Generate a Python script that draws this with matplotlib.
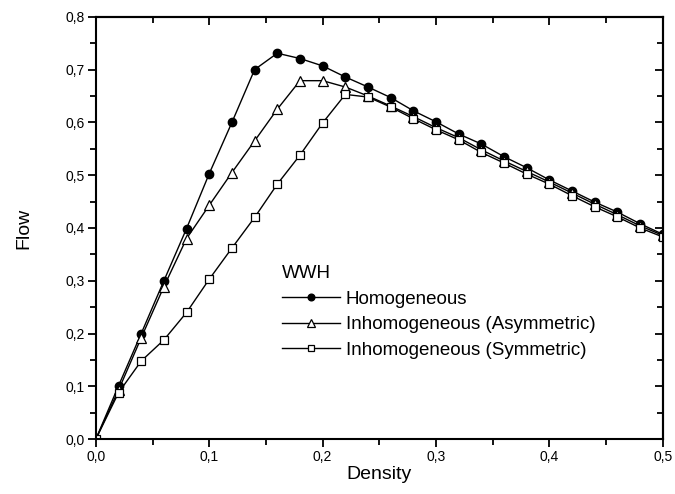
import matplotlib
matplotlib.use("Agg")
import matplotlib.pyplot as plt
from matplotlib.ticker import MultipleLocator, FuncFormatter

plt.rcParams['font.family'] = ['Liberation Sans', 'DejaVu Sans']

density = [0.00, 0.02, 0.04, 0.06, 0.08, 0.10, 0.12, 0.14, 0.16, 0.18, 0.20, 0.22, 0.24,
           0.26, 0.28, 0.30, 0.32, 0.34, 0.36, 0.38, 0.40, 0.42, 0.44, 0.46, 0.48, 0.50]

flow_homo = [0.0, 0.101, 0.200, 0.300, 0.399, 0.503, 0.600, 0.700, 0.731, 0.721, 0.707, 0.686, 0.667,
             0.647, 0.622, 0.601, 0.578, 0.559, 0.535, 0.514, 0.491, 0.470, 0.449, 0.430, 0.408, 0.388]
flow_asym = [0.0, 0.093, 0.192, 0.289, 0.380, 0.443, 0.505, 0.565, 0.625, 0.679, 0.679, 0.667, 0.650,
             0.631, 0.611, 0.590, 0.571, 0.548, 0.527, 0.507, 0.487, 0.466, 0.445, 0.425, 0.404, 0.386]
flow_sym = [0.0, 0.088, 0.148, 0.188, 0.240, 0.303, 0.362, 0.420, 0.483, 0.538, 0.599, 0.653, 0.648,
            0.629, 0.607, 0.586, 0.567, 0.543, 0.523, 0.502, 0.483, 0.461, 0.440, 0.421, 0.400, 0.383]

fig = plt.figure(figsize=(6.75, 4.94), dpi=100)
ax = fig.add_axes([0.142, 0.111, 0.840, 0.855])

ax.plot(density, flow_homo, color='black', lw=1, marker='o', ms=6,
        mfc='black', mec='black', label='Homogeneous')
ax.plot(density, flow_asym, color='black', lw=1, marker='^', ms=7,
        mfc='white', mec='black', mew=0.9, label='Inhomogeneous (Asymmetric)')
ax.plot(density, flow_sym, color='black', lw=1, marker='s', ms=5.5,
        mfc='white', mec='black', mew=0.9, label='Inhomogeneous (Symmetric)')

ax.set_xlim(0, 0.5)
ax.set_ylim(0, 0.8)
ax.xaxis.set_major_locator(MultipleLocator(0.1))
ax.xaxis.set_minor_locator(MultipleLocator(0.05))
ax.yaxis.set_major_locator(MultipleLocator(0.1))
ax.yaxis.set_minor_locator(MultipleLocator(0.05))
comma = FuncFormatter(lambda v, p: f"{v:.1f}".replace('.', ','))
ax.xaxis.set_major_formatter(comma)
ax.yaxis.set_major_formatter(comma)

for s in ax.spines.values():
    s.set_linewidth(1.5)
ax.tick_params(which='both', direction='out', width=1.3, labelsize=10, pad=2)
ax.tick_params(which='major', length=6)
ax.tick_params(which='minor', length=4)
# top and right ticks point inward
sec_x = ax.secondary_xaxis('top')
sec_x.xaxis.set_major_locator(MultipleLocator(0.1))
sec_x.xaxis.set_minor_locator(MultipleLocator(0.05))
sec_x.tick_params(which='both', direction='in', width=1.3, labeltop=False)
sec_x.tick_params(which='major', length=6)
sec_x.tick_params(which='minor', length=4)
sec_x.spines['top'].set_linewidth(1.5)
sec_y = ax.secondary_yaxis('right')
sec_y.yaxis.set_major_locator(MultipleLocator(0.1))
sec_y.yaxis.set_minor_locator(MultipleLocator(0.05))
sec_y.tick_params(which='both', direction='in', width=1.3, labelright=False)
sec_y.tick_params(which='major', length=6)
sec_y.tick_params(which='minor', length=4)
sec_y.spines['right'].set_linewidth(1.5)

ax.set_xlabel('Density', fontsize=14, labelpad=1)
ax.set_ylabel('Flow', fontsize=14, labelpad=24)

leg = ax.legend(title='WWH', loc='upper left', bbox_to_anchor=(0.315, 0.43),
                frameon=False, fontsize=13.5, title_fontsize=13.5,
                handlelength=3.1, handletextpad=0.3, labelspacing=0.45,
                borderaxespad=0, alignment='left', markerscale=0.8)

fig.savefig('out.png', dpi=100)
